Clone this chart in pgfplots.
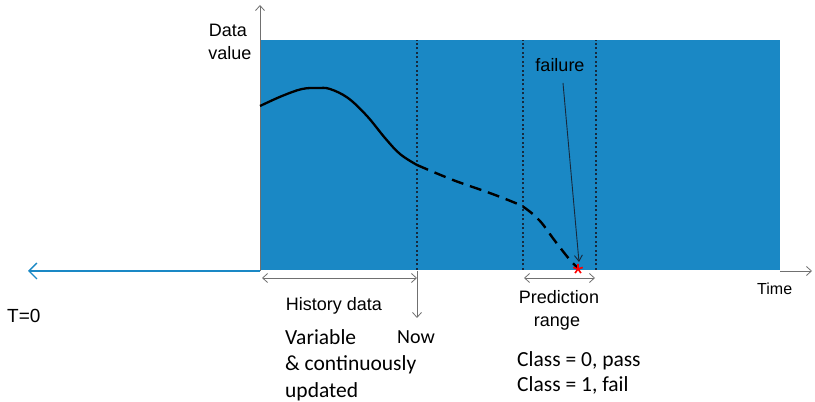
\documentclass[border=0pt]{standalone}
\usepackage{pgfplots}
\pgfplotsset{compat=1.18}
\usepackage{fontspec}
\setmainfont{Liberation Sans}
\newfontfamily\calfont{Carlito}
\usetikzlibrary{arrows.meta}
\definecolor{bgblue}{HTML}{1A88C5}
\definecolor{navy}{HTML}{17293D}
\definecolor{arrgray}{HTML}{707070}
\begin{document}
\begin{tikzpicture}
\useasboundingbox (0,0) rectangle (815pt,402pt);
\begin{axis}[
  at={(0,0)}, anchor=south west,
  width=815pt, height=402pt, scale only axis,
  xmin=0, xmax=815, ymin=0, ymax=402,
  hide axis, clip=false,
]
% blue region
\addplot[fill=bgblue, draw=none] coordinates {(260,132) (780,132) (780,362) (260,362)} -- cycle;
% dotted verticals
\addplot[navy, dash pattern=on 2pt off 2.5pt, line width=1.3pt] coordinates {(417,132) (417,362)};
\addplot[navy, dash pattern=on 2pt off 2.5pt, line width=1.3pt] coordinates {(523,132) (523,362)};
\addplot[navy, dash pattern=on 2pt off 2.5pt, line width=1.3pt] coordinates {(596,132) (596,362)};
% axes
\addplot[arrgray, line width=0.8pt, -{Straight Barb[length=5pt,width=9pt]}] coordinates {(260,131) (260,397)};
\addplot[arrgray, line width=0.8pt, -{Straight Barb[length=5pt,width=9pt]}] coordinates {(780,131) (812,131)};
\addplot[bgblue, line width=1.3pt, -{Straight Barb[length=8pt,width=16pt]}] coordinates {(260,131) (28,131)};
% history curve (solid)
\addplot[black, line width=2.3pt, smooth, tension=0.6] coordinates {
(260,296) (282,306) (302,313) (318,314) (330,313) (348,304) (367,286) (385,264) (400,248) (417,237)};
% prediction (dashed)
\addplot[black, line width=2.4pt, dash pattern=on 12pt off 7pt, smooth, tension=0.6] coordinates {
(417,237) (453,222) (487,210) (513,200) (525,194) (540,181) (555,161) (570,142) (578,134)};
% failure arrow
\addplot[navy, line width=0.9pt, -{Straight Barb[length=6pt,width=8pt]}] coordinates {(563,319) (579,140)};
% failure mark
\addplot[red, only marks, mark=star, mark size=5pt, line width=1.6pt] coordinates {(578,133)};
% history range arrow
\addplot[arrgray, line width=0.8pt, {Straight Barb[length=5pt,width=9pt]}-{Straight Barb[length=5pt,width=9pt]}] coordinates {(262,124) (417,124)};
\addplot[arrgray, line width=0.8pt, -{Straight Barb[length=5pt,width=9pt]}] coordinates {(417,131) (417,84)};
% prediction range arrow
\addplot[arrgray, line width=0.8pt, {Straight Barb[length=5pt,width=9pt]}-{Straight Barb[length=5pt,width=9pt]}] coordinates {(524,124) (595,124)};
% texts
\node[anchor=base, font=\fontsize{18}{20}\selectfont] at (axis cs:228,365) {Data};
\node[anchor=base, font=\fontsize{18}{20}\selectfont] at (axis cs:230,342) {value};
\node[anchor=base, font=\fontsize{18}{20}\selectfont] at (axis cs:560,330) {failure};
\node[anchor=base, font=\fontsize{18}{20}\selectfont] at (axis cs:334,92) {History data};
\node[anchor=base west, inner xsep=0pt, font=\fontsize{19}{21}\selectfont] at (axis cs:7,79) {T=0};
\node[anchor=base, font=\calfont\fontsize{20}{22}\selectfont] at (axis cs:416,59) {Now};
\node[anchor=base west, inner xsep=0pt, font=\calfont\fontsize{21.5}{24}\selectfont] at (axis cs:285,57) {Variable};
\node[anchor=base west, inner xsep=0pt, font=\calfont\fontsize{21.5}{24}\selectfont] at (axis cs:285,31) {\& continuously};
\node[anchor=base west, inner xsep=0pt, font=\calfont\fontsize{21.5}{24}\selectfont] at (axis cs:285,5) {updated};
\node[anchor=base, font=\fontsize{18}{20}\selectfont] at (axis cs:559,99) {Prediction};
\node[anchor=base, font=\fontsize{18}{20}\selectfont] at (axis cs:557,76) {range};
\node[anchor=base west, inner xsep=0pt, font=\calfont\fontsize{21.5}{24}\selectfont] at (axis cs:517,36) {Class = 0, pass};
\node[anchor=base west, inner xsep=0pt, font=\calfont\fontsize{21.5}{24}\selectfont] at (axis cs:517,11) {Class = 1, fail};
\node[anchor=base west, inner xsep=0pt, font=\fontsize{16}{18}\selectfont] at (axis cs:757,107) {Time};
\end{axis}
\end{tikzpicture}
\end{document}
